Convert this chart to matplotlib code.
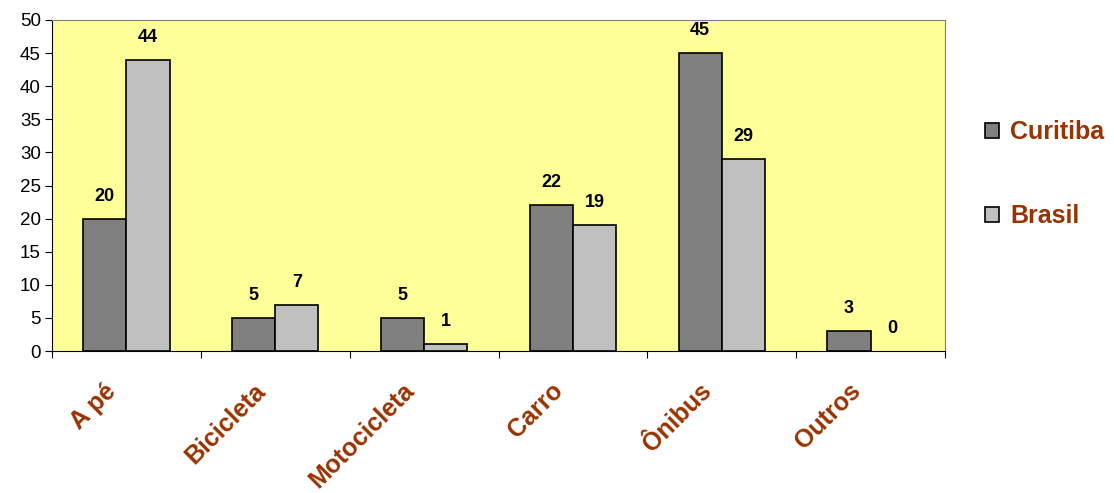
import matplotlib.pyplot as plt
import numpy as np

categorias = ["A pé", "Bicicleta", "Motocicleta", "Carro", "Ônibus", "Outros"]
curitiba = [20, 5, 5, 22, 45, 3]
brasil = [44, 7, 1, 19, 29, 0]
series = ["Curitiba", "Brasil"]

plt.rcParams['font.family'] = ['Liberation Sans', 'DejaVu Sans']

fig = plt.figure(figsize=(11.14, 4.93), dpi=100)
ax = fig.add_axes([52 / 1114, 1 - 351 / 493, (945 - 52) / 1114, (351 - 20) / 493])
ax.set_facecolor("#FFFF99")

x = np.arange(len(categorias))
w = 0.29
lw1 = [1.2 if v > 0 else 0 for v in curitiba]
lw2 = [1.2 if v > 0 else 0 for v in brasil]
b1 = ax.bar(x - w / 2, curitiba, w, color="#808080", edgecolor="black", lw=lw1, label=series[0])
b2 = ax.bar(x + w / 2, brasil, w, color="#C0C0C0", edgecolor="black", lw=lw2, label=series[1])

for bars, vals in [(b1, curitiba), (b2, brasil)]:
    for r, v in zip(bars, vals):
        ax.text(r.get_x() + r.get_width() / 2, v + 2.1, str(v), ha="center", va="bottom",
                fontsize=13, fontweight="bold")

ax.set_xlim(-0.5, len(categorias) - 0.5)
ax.set_ylim(0, 50)
ax.set_yticks(range(0, 51, 5))
ax.tick_params(axis="y", labelsize=13.5, length=5, direction="out", pad=3)
ax.set_xticks(np.arange(-0.5, len(categorias), 1))
ax.set_xticklabels([])
ax.tick_params(axis="x", length=5, direction="out")

for xi, lab in zip(x, categorias):
    ax.text(xi - 0.15, -4.2, lab, rotation=45, ha="right", va="top", rotation_mode="anchor",
            fontsize=18, fontweight="bold", color="#993300")

for s in ["top", "right"]:
    ax.spines[s].set_color("#808080")
ax.spines["left"].set_color("black")
ax.spines["bottom"].set_color("black")

leg = fig.legend(handles=[b1, b2], labels=series, loc="upper left",
                 bbox_to_anchor=(985 / 1114, 1 - 120 / 493), borderpad=0, borderaxespad=0,
                 frameon=False, prop={"size": 18, "weight": "bold"}, labelcolor="#993300",
                 handlelength=0.56, handleheight=0.56, handletextpad=0.44, labelspacing=2.4)
for h in leg.legend_handles:
    h.set_linewidth(1.2)

fig.savefig("out.png", dpi=100)
